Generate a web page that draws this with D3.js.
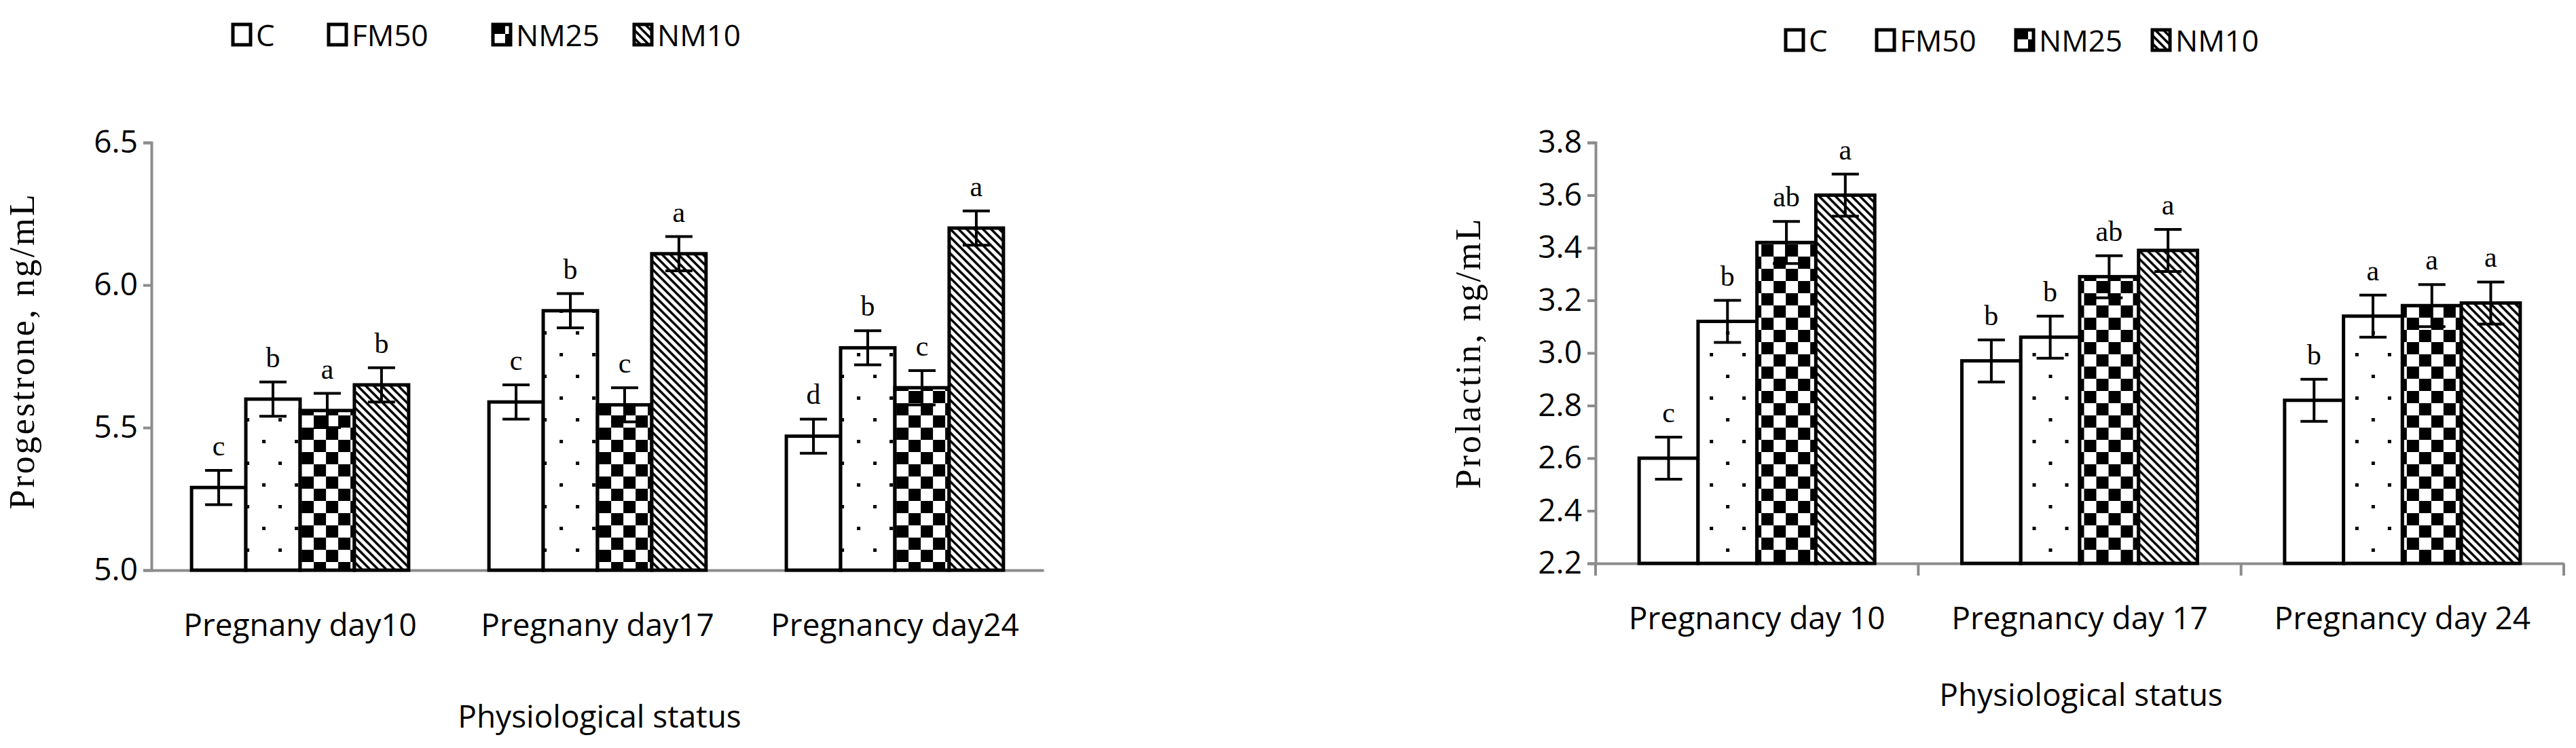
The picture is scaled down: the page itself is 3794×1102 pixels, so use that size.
<!DOCTYPE html>
<html><head><meta charset="utf-8">
<script src="https://cdn.jsdelivr.net/npm/d3@7"></script>
<style>body{margin:0;background:#fff}</style>
</head><body>
<svg id="chart" width="3794" height="1102"></svg>
<script>
// series names
var groups = ["C", "FM50", "NM25", "NM10"];

// left chart: progesterone
var progCats = ["Pregnany day10", "Pregnany day17", "Pregnancy day24"];
var progC = [5.29, 5.59, 5.47];
var progFM50 = [5.60, 5.91, 5.78];
var progNM25 = [5.56, 5.58, 5.64];
var progNM10 = [5.65, 6.11, 6.20];
var progErr = [0.06, 0.06, 0.06];
var progLetters = [["c", "b", "a", "b"], ["c", "b", "c", "a"], ["d", "b", "c", "a"]];
var progTicks = [5.0, 5.5, 6.0, 6.5];

// right chart: prolactin
var prolCats = ["Pregnancy day 10", "Pregnancy day 17", "Pregnancy day 24"];
var prolC = [2.60, 2.97, 2.82];
var prolFM50 = [3.12, 3.06, 3.14];
var prolNM25 = [3.42, 3.29, 3.18];
var prolNM10 = [3.60, 3.39, 3.19];
var prolErr = [0.08, 0.08, 0.08];
var prolLetters = [["c", "b", "ab", "a"], ["b", "b", "ab", "a"], ["b", "a", "a", "a"]];
var prolTicks = [2.2, 2.4, 2.6, 2.8, 3.0, 3.2, 3.4, 3.6, 3.8];

var svg = d3.select("#chart");
var sansFont = "'Liberation Sans Narrow', 'Open Sans', sans-serif";
var serifFont = "'Liberation Serif', 'DejaVu Serif', serif";

// fill patterns
var defs = svg.append("defs");
var pDots = defs.append("pattern").attr("id", "dots").attr("patternUnits", "userSpaceOnUse")
  .attr("width", 48).attr("height", 64);
pDots.append("rect").attr("width", 48).attr("height", 64).attr("fill", "#fff");
pDots.append("rect").attr("x", 8).attr("y", 8).attr("width", 5).attr("height", 5).attr("fill", "#000");
pDots.append("rect").attr("x", 32).attr("y", 40).attr("width", 5).attr("height", 5).attr("fill", "#000");

var pCheck = defs.append("pattern").attr("id", "check").attr("patternUnits", "userSpaceOnUse")
  .attr("width", 36).attr("height", 36);
pCheck.append("rect").attr("width", 36).attr("height", 36).attr("fill", "#fff");
pCheck.append("rect").attr("width", 18).attr("height", 18).attr("fill", "#000");
pCheck.append("rect").attr("x", 18).attr("y", 18).attr("width", 18).attr("height", 18).attr("fill", "#000");

var pDiag = defs.append("pattern").attr("id", "diag").attr("patternUnits", "userSpaceOnUse")
  .attr("width", 12).attr("height", 12);
pDiag.append("rect").attr("width", 12).attr("height", 12).attr("fill", "#fff");
pDiag.append("path").attr("d", "M-3,-3 L15,15 M-3,9 L3,15 M9,-3 L15,3")
  .attr("stroke", "#000").attr("stroke-width", 3.5);

var fills = ["#fff", "url(#dots)", "url(#check)", "url(#diag)"];

function drawChart(opt) {
  var g = svg.append("g");
  var x0 = d3.scaleBand().domain(opt.cats).range([opt.left, opt.right]).paddingInner(opt.pad).paddingOuter(opt.pad / 2);
  var x1 = d3.scaleBand().domain(groups).range([0, x0.bandwidth()]);
  var y = d3.scaleLinear().domain([opt.ticks[0], opt.ticks[opt.ticks.length - 1]]).range([opt.bottom, opt.top]);

  // y axis
  var ya = g.append("g").attr("transform", "translate(" + opt.left + ",0)")
    .call(d3.axisLeft(y).tickValues(opt.ticks).tickFormat(d3.format(".1f")).tickSize(12).tickPadding(8));
  ya.select(".domain").attr("stroke", "#8c8c8c").attr("stroke-width", 4);
  ya.selectAll(".tick line").attr("stroke", "#8c8c8c").attr("stroke-width", 4);
  ya.selectAll("text").attr("font-family", sansFont).attr("font-size", 46).attr("fill", "#000");

  // x axis
  var xa = g.append("g").attr("transform", "translate(0," + opt.bottom + ")")
    .call(d3.axisBottom(x0).tickSize(0).tickPadding(opt.labPad));
  xa.select(".domain").attr("stroke", "#8c8c8c").attr("stroke-width", 4);
  xa.selectAll("text").attr("font-family", sansFont).attr("font-size", 46).attr("fill", "#000");
  if (opt.catTicks) {
    var bounds = opt.cats.map(function (c) { return x0(c) - x0.step() * x0.paddingInner() / 2; });
    bounds.push(opt.right);
    g.selectAll(".ctick").data(bounds).enter().append("line")
      .attr("x1", function (d) { return d; }).attr("x2", function (d) { return d; })
      .attr("y1", opt.bottom).attr("y2", opt.bottom + 18)
      .attr("stroke", "#8c8c8c").attr("stroke-width", 4);
  }

  // bars
  opt.cats.forEach(function (cat, i) {
    var cg = g.append("g").attr("transform", "translate(" + x0(cat) + ",0)");
    groups.forEach(function (s, j) {
      var v = opt.series[j][i];
      var bx = x1(s);
      cg.append("rect").attr("x", bx).attr("y", y(v)).attr("width", x1.bandwidth())
        .attr("height", opt.bottom - y(v)).attr("fill", fills[j])
        .attr("stroke", "#000").attr("stroke-width", 5);
      var cx = bx + x1.bandwidth() / 2, e = opt.err[i];
      cg.append("path")
        .attr("d", "M" + (cx - 20) + "," + y(v + e) + "H" + (cx + 20) +
          "M" + cx + "," + y(v + e) + "V" + y(v - e) +
          "M" + (cx - 20) + "," + y(v - e) + "H" + (cx + 20))
        .attr("stroke", "#000").attr("stroke-width", 4).attr("fill", "none");
      cg.append("text").attr("x", cx).attr("y", y(v + e) - 22).attr("text-anchor", "middle")
        .attr("font-family", serifFont).attr("font-size", 42).text(opt.letters[i][j]);
    });
  });

  // axis titles
  g.append("text").attr("transform", "translate(" + opt.yTitleX + "," + ((opt.top + opt.bottom) / 2 + opt.yTitleDy) + ") rotate(-90)")
    .attr("text-anchor", "middle").attr("font-family", serifFont).attr("font-size", 52)
    .attr("letter-spacing", 3).text(opt.yTitle);
  g.append("text").attr("x", opt.xTitleX).attr("y", opt.xTitleY).attr("text-anchor", "middle")
    .attr("font-family", sansFont).attr("font-size", 46).text("Physiological status");

  // legend
  var lg = g.append("g").attr("transform", "translate(" + opt.legX + "," + opt.legY + ")");
  groups.forEach(function (s, j) {
    var it = lg.append("g").attr("transform", "translate(" + opt.legPos[j] + ",0)");
    it.append("rect").attr("x", 0).attr("y", -32).attr("width", 26).attr("height", 30)
      .attr("fill", fills[j]).attr("stroke", "#000").attr("stroke-width", 5);
    it.append("text").attr("x", 34).attr("y", 0).attr("font-family", sansFont)
      .attr("font-size", 44).text(s);
  });
}

drawChart({
  cats: progCats, series: [progC, progFM50, progNM25, progNM10], err: progErr,
  letters: progLetters, ticks: progTicks,
  left: 223, right: 1537, top: 210, bottom: 840, pad: 0.27, labPad: 64, catTicks: false,
  yTitle: "Progestrone, ng/mL", yTitleX: 50, yTitleDy: -8, xTitleX: 883, xTitleY: 1072,
  legX: 343, legY: 68, legPos: [0, 141, 383, 591]
});

drawChart({
  cats: prolCats, series: [prolC, prolFM50, prolNM25, prolNM10], err: prolErr,
  letters: prolLetters, ticks: prolTicks,
  left: 2350, right: 3776, top: 210, bottom: 830, pad: 0.27, labPad: 64, catTicks: true,
  yTitle: "Prolactin, ng/mL", yTitleX: 2180, yTitleDy: 0, xTitleX: 3065, xTitleY: 1040,
  legX: 2630, legY: 76, legPos: [0, 134, 339, 540]
});
</script>
</body></html>
